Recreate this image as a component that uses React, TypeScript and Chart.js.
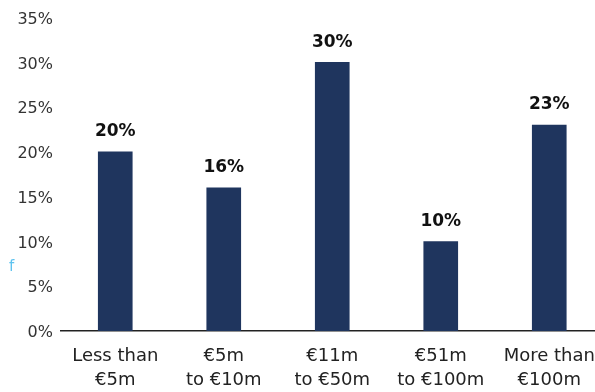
import React, { useEffect, useRef } from "react";
import { Chart, registerables } from "chart.js";

Chart.register(...registerables);

const categories: string[][] = [
  ["Less than", "€5m"],
  ["€5m", "to €10m"],
  ["€11m", "to €50m"],
  ["€51m", "to €100m"],
  ["More than", "€100m"],
];
const values: number[] = [20, 16, 30, 10, 23];
const yTicks: number[] = [0, 5, 10, 15, 20, 25, 30, 35];

const BAR_COLOR = "#1f355e";
const FONT = "'DejaVu Sans', sans-serif";

const labelPlugin = {
  id: "valueLabels",
  afterDatasetsDraw(chart: any) {
    const ctx = chart.ctx;
    const meta = chart.getDatasetMeta(0);
    ctx.save();
    ctx.font = `bold 17px ${FONT}`;
    ctx.fillStyle = "#111";
    ctx.textAlign = "center";
    ctx.textBaseline = "middle";
    meta.data.forEach((bar: any, i: number) => {
      ctx.fillText(`${values[i]}%`, bar.x, bar.y - 20);
    });
    ctx.restore();
  },
};

export default function App() {
  const ref = useRef<HTMLCanvasElement | null>(null);

  useEffect(() => {
    if (!ref.current) return;
    const chart = new Chart(ref.current, {
      type: "bar",
      data: {
        labels: categories,
        datasets: [
          {
            data: values,
            backgroundColor: BAR_COLOR,
            barThickness: 34,
          },
        ],
      },
      options: {
        animation: false,
        responsive: false,
        maintainAspectRatio: false,
        layout: { padding: { top: 14.6, right: 16.5, left: 0, bottom: 0 } },
        plugins: { legend: { display: false }, tooltip: { enabled: false } },
        scales: {
          x: {
            grid: { display: false, drawTicks: false },
            border: { display: true, color: "#222", width: 1.5 },
            ticks: {
              color: "#222",
              padding: 14,
              maxRotation: 0,
              autoSkip: false,
              font: { family: FONT, size: 18, lineHeight: 1.3 },
            },
            afterFit: (s: any) => {
              s.height = 61;
            },
          },
          y: {
            min: 0,
            max: 35,
            grid: { display: false, drawTicks: false },
            border: { display: false },
            afterBuildTicks: (s: any) => {
              s.ticks = yTicks.map((v) => ({ value: v }));
            },
            ticks: {
              color: "#333",
              padding: 8,
              labelOffset: 2,
              font: { family: FONT, size: 16 },
              callback: (v: any) => `${v}%`,
            },
            afterFit: (s: any) => {
              s.width = 61;
            },
          },
        },
      },
      plugins: [labelPlugin],
    });
    return () => chart.destroy();
  }, []);

  return (
    <div
      style={{
        position: "absolute",
        left: 0,
        top: 0,
        width: 595,
        height: 392,
        overflow: "hidden",
        background: "#fff",
      }}
    >
      <canvas ref={ref} width={620} height={392} style={{ width: 620, height: 392, display: "block" }} />
      <span
        style={{
          position: "absolute",
          left: 9,
          top: 257,
          fontFamily: FONT,
          fontSize: 15,
          color: "#5ec3ef",
        }}
      >
        f
      </span>
    </div>
  );
}
